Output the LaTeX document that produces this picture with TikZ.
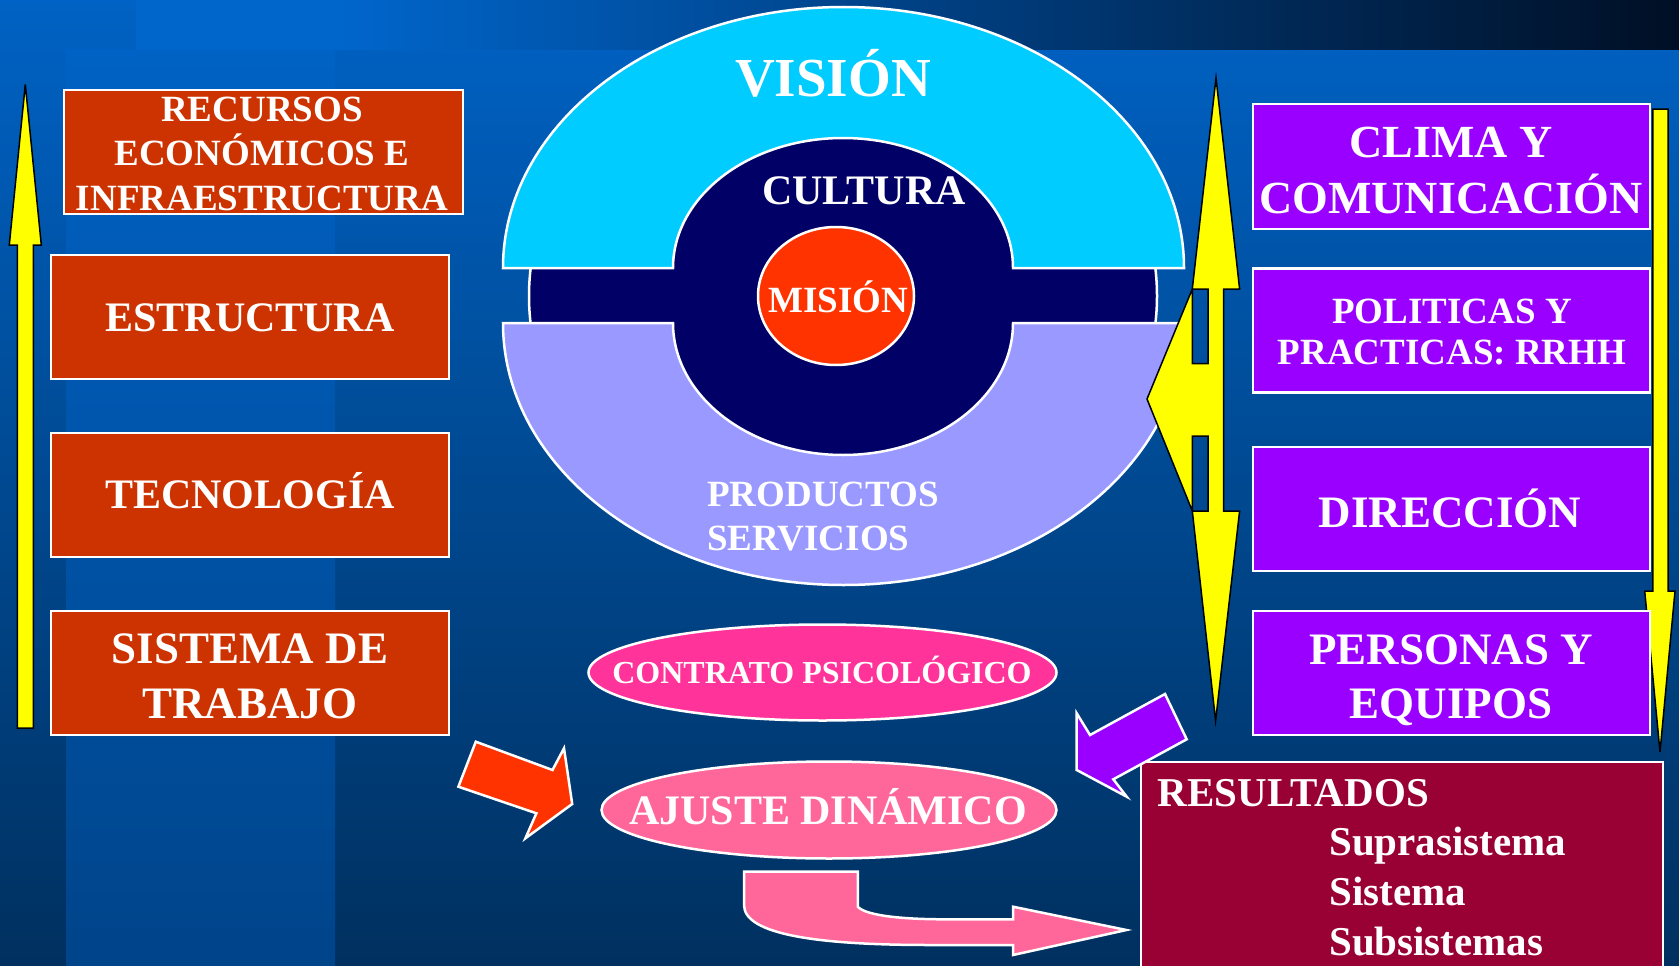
\documentclass[tikz,border=0pt]{standalone}
\usepackage{fontspec}
\setmainfont{Liberation Serif}
\usetikzlibrary{shapes.geometric}
\definecolor{bgtop}{HTML}{0062C4}
\definecolor{bgbot}{HTML}{00305F}
\definecolor{stripebot}{HTML}{00448A}
\definecolor{bandl}{HTML}{0066CC}
\definecolor{bandm}{HTML}{0055A8}
\definecolor{bandr}{HTML}{000F25}
\definecolor{cyanV}{HTML}{00CCFF}
\definecolor{navyC}{HTML}{000066}
\definecolor{lavP}{HTML}{9999FF}
\definecolor{misR}{HTML}{FF3300}
\definecolor{boxR}{HTML}{CC3300}
\definecolor{boxP}{HTML}{9900FF}
\definecolor{boxRes}{HTML}{990033}
\definecolor{contP}{HTML}{FF3399}
\definecolor{ajP}{HTML}{FF6699}
\definecolor{yel}{HTML}{FFFF00}
\newcommand{\fsz}[2]{\fontsize{#1}{#2}\selectfont\bfseries}
\tikzset{
  wline/.style={draw=white, line width=2.5pt},
  redbox/.style={wline, fill=boxR, rectangle, inner sep=0pt},
  purbox/.style={wline, fill=boxP, rectangle, inner sep=0pt},
  resbox/.style={wline, fill=boxRes, rectangle, inner sep=0pt},
  ovalnode/.style={wline, ellipse, inner sep=0pt},
  txt/.style={text=white, inner sep=0pt, anchor=base, align=center},
  yarrow/.style={fill=yel, draw=black, line width=1.5pt, line join=miter},
  blockarrow/.style={wline, line join=miter},
}
\begin{document}
\begin{tikzpicture}[x=1pt,y=-1pt]
\useasboundingbox (0,0) rectangle (1679,966);
\clip (0,0) rectangle (1679,966);
% background
\shade[top color=bgtop, bottom color=bgbot] (0,0) rectangle (1679,966);
\shade[top color=bgtop, bottom color=stripebot] (66,50) rectangle (335,966);
\fill[bandl] (136,0) rectangle (335,50);
\shade[left color=bandl, middle color=bandm, right color=bandr] (335,0) rectangle (1679,50);

% central diagram
\filldraw[wline, fill=navyC] (843,296) ellipse [x radius=314, y radius=270];
\filldraw[wline, fill=cyanV] (503,268) arc[start angle=180, end angle=360, x radius=340.5, y radius=261]
   -- (1013,268) arc[start angle=0, end angle=-180, x radius=170, y radius=130] -- cycle;
\filldraw[wline, fill=lavP] (503,323) arc[start angle=180, end angle=0, x radius=340.5, y radius=262]
   -- (1013,323) arc[start angle=0, end angle=180, x radius=170, y radius=132] -- cycle;
\node[ovalnode, fill=misR, minimum width=156pt, minimum height=138pt] (mision) at (836,296) {};
\node[txt, font=\fsz{55}{60}] (vision-t) at (833,96) {VISIÓN};
\node[txt, font=\fsz{42}{48}] (cultura-t) at (864,204) {CULTURA};
\node[txt, font=\fsz{37}{42}] (mision-t) at (838,312) {MISIÓN};
\node[txt, anchor=base west, align=left, font=\fsz{37}{44}] (prod-t) at (707,550) {PRODUCTOS\\SERVICIOS};

% left column
\filldraw[yarrow] (25.3,84.5) -- (41.3,245) -- (33.3,245) -- (33.3,728) -- (17.3,728) -- (17.3,245) -- (9.3,245) -- cycle;
\node[redbox, minimum width=399pt, minimum height=124pt] (recursos) at (263.5,152) {};
\node[redbox, minimum width=398pt, minimum height=124pt] (estructura) at (250,317) {};
\node[redbox, minimum width=398pt, minimum height=124pt] (tecnologia) at (250,495) {};
\node[redbox, minimum width=398pt, minimum height=124pt] (sistema) at (250,673) {};
\node[txt, font=\fsz{37}{44.5}] (recursos-t) at (262,210) {RECURSOS\\ECONÓMICOS E\\INFRAESTRUCTURA};
\node[txt, font=\fsz{42}{48}] (estructura-t) at (250,331) {ESTRUCTURA};
\node[txt, font=\fsz{42}{48}] (tecnologia-t) at (250,508) {TECNOLOGÍA};
\node[txt, font=\fsz{45}{55}] (sistema-t) at (250,718) {SISTEMA DE\\TRABAJO};

% right column
\filldraw[yarrow, even odd rule] (1216,78) -- (1239.6,289) -- (1223.7,289) -- (1223.7,511) -- (1239.6,511)
   -- (1215.6,720.7) -- (1192.3,511) -- (1147,399) -- (1192.3,289) -- cycle
   (1192.3,289) rectangle (1208.2,363.6)
   (1192.3,436) rectangle (1208.2,511);
\filldraw[yarrow] (1652.8,109) -- (1668,109) -- (1668,591) -- (1675,591) -- (1660,752) -- (1644.7,591) -- (1652.8,591) -- cycle;
\node[purbox, minimum width=397pt, minimum height=125pt] (clima) at (1451.5,166.5) {};
\node[purbox, minimum width=397pt, minimum height=124pt] (politicas) at (1451.5,330.5) {};
\node[purbox, minimum width=397pt, minimum height=124pt] (direccion) at (1451.5,509) {};
\node[purbox, minimum width=397pt, minimum height=124pt] (personas) at (1451.5,673) {};
\node[txt, font=\fsz{46}{56}] (clima-t) at (1451,213) {CLIMA Y\\COMUNICACIÓN};
\node[txt, font=\fsz{37}{41}] (politicas-t) at (1452,364) {POLITICAS Y\\PRACTICAS: RRHH};
\node[txt, font=\fsz{45}{54}] (direccion-t) at (1450,527) {DIRECCIÓN};
\node[txt, font=\fsz{45}{54}] (personas-t) at (1451,718) {PERSONAS Y\\EQUIPOS};

% bottom
\node[ovalnode, fill=contP, minimum width=468pt, minimum height=96pt] (contrato) at (822.5,672.5) {};
\node[txt, font=\fsz{32}{36}] (contrato-t) at (822,683.8) {CONTRATO PSICOLÓGICO};
\node[ovalnode, fill=ajP, minimum width=455pt, minimum height=97pt] (ajuste) at (829,810) {};
\node[txt, font=\fsz{42}{48}] (ajuste-t) at (828,824.5) {AJUSTE DINÁMICO};
\node[resbox, minimum width=522pt, minimum height=260pt] (resultados) at (1402,892) {};
\node[txt, anchor=base west, font=\fsz{41}{48}] (resultados-t) at (1157.5,806.6) {RESULTADOS};
\node[txt, anchor=base west, align=left, font=\fsz{41}{50}] (niveles-t) at (1329,955.3) {Suprasistema\\Sistema\\Subsistemas};

% block arrows
\filldraw[blockarrow, fill=misR] (475.8,741.7) -- (552.5,770) -- (564,748.3) -- (572.2,804) -- (525.4,838.3)
   -- (536.4,813.3) -- (458.4,786.7) -- cycle;
\filldraw[blockarrow, fill=boxP] (1165,694) -- (1186.7,739.3) -- (1113.3,779.3) -- (1126.7,796.7)
   -- (1076.7,770) -- (1076.7,713.3) -- (1090,735) -- cycle;
\filldraw[blockarrow, fill=ajP] (744,871.7) -- (857.8,871.7) -- (857.8,906.7)
   .. controls (866,916) and (905,919.3) .. (945,919.3) -- (1013,919.3) -- (1013,906.7) -- (1126.4,930)
   -- (1013,955) -- (1013,945) -- (930,945) .. controls (820,945) and (744,935) .. (744,905) -- cycle;
\end{tikzpicture}
\end{document}
